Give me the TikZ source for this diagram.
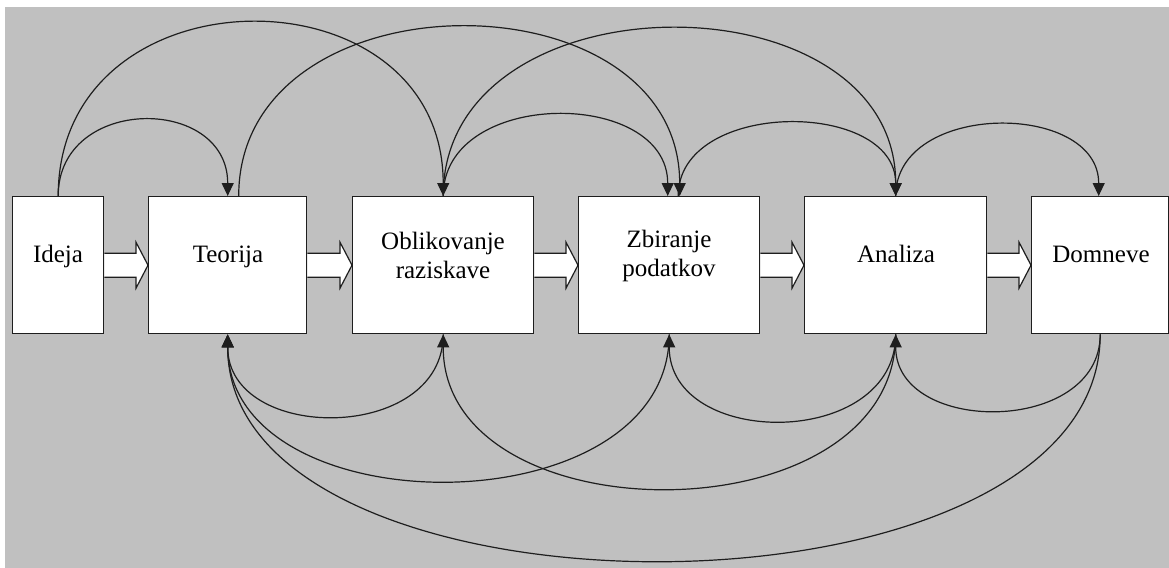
\documentclass[tikz,border=0pt]{standalone}
\usepackage{fontspec}
\setmainfont{Liberation Serif}
\usetikzlibrary{arrows.meta,calc}
\definecolor{bggray}{RGB}{192,192,192}
\definecolor{edge}{RGB}{30,30,30}
\begin{document}
\begin{tikzpicture}[x=0.5pt,y=-0.5pt,
  box/.style={draw=edge, fill=white, line width=0.7pt, inner sep=0pt, anchor=north west, minimum height=68.5pt},
  lbl/.style={font=\fontsize{12.5}{14.5}\selectfont, align=center, inner sep=0pt},
  lblone/.style={lbl, text height=8.6pt, text depth=2.7pt},
  conn/.style={draw=edge, line width=0.6pt, -{Triangle[width=6pt,length=6.5pt]}},
  plain/.style={draw=edge, line width=0.6pt},
  blk/.style={draw=edge, fill=white, line width=0.6pt, line join=miter}
]
\useasboundingbox (0,0) rectangle (1169,568);
\fill[white] (0,0) rectangle (1169,568);
\fill[bggray] (5,7) rectangle (1169,568);

% boxes
\node[box, minimum width=45.5pt] (i) at (12,196) {};
\node[box, minimum width=79pt]   (t) at (148,196) {};
\node[box, minimum width=90.5pt] (o) at (352,196) {};
\node[box, minimum width=90.5pt] (z) at (578,196) {};
\node[box, minimum width=91pt]   (a) at (804,196) {};
\node[box, minimum width=68.5pt] (d) at (1031,196) {};

% labels
\node[lblone] (li) at (58,257) {Ideja};
\node[lblone] (lt) at (228,257) {Teorija};
\node[lbl]    (lo) at (443,255) {Oblikovanje\\raziskave};
\node[lbl]    (lz) at (669,256) {Zbiranje\\podatkov};
\node[lblone] (la) at (896,257) {Analiza};
\node[lblone] (ld) at (1101,257) {Domneve};

% block arrows
\foreach \p/\q in {i/t, t/o, o/z, z/a, a/d}{
  \draw[blk] ($(\p.east)+(0,-12)$) -- ($(\q.west)+(-12,-12)$) -- ($(\q.west)+(-12,-23)$)
    -- (\q.west) -- ($(\q.west)+(-12,23)$) -- ($(\q.west)+(-12,12)$) -- ($(\p.east)+(0,12)$);
}

% top arcs
\draw[conn] (i.north) .. controls +(0,-101) and +(0,-101) .. (t.north);
\draw[conn] (i.north) .. controls +(0,-231) and +(0,-231) .. (o.north);
\draw[conn] ($(t.north)+(11,0)$) .. controls +(0,-225) and +(0,-225) .. ($(z.north)+(10.5,0)$);
\draw[conn] (o.north) .. controls +(0,-108) and +(0,-108) .. ($(z.north)+(-1.5,0)$);
\draw[conn] (o.north) .. controls +(0,-223) and +(0,-223) .. (a.north);
\draw[conn] ($(z.north)+(9,0)$) .. controls +(0,-97) and +(0,-97) .. (a.north);
\draw[conn] (a.north) .. controls +(0,-95) and +(0,-95) .. ($(d.north)+(-1.5,0)$);

% bottom arcs
\draw[conn] (o.south) .. controls +(0,109) and +(0,109) .. (t.south);
\draw[conn] (z.south) .. controls +(0,195) and +(0,195) .. (t.south);
\draw[conn] (d.south) .. controls +(0,301) and +(0,301) .. (t.south);
\draw[conn] (a.south) .. controls +(0,205) and +(0,205) .. (o.south);
\draw[conn] (a.south) .. controls +(0,115) and +(0,115) .. (z.south);
\draw[conn] (d.south) .. controls +(0,101) and +(0,101) .. (a.south);
\end{tikzpicture}
\end{document}
